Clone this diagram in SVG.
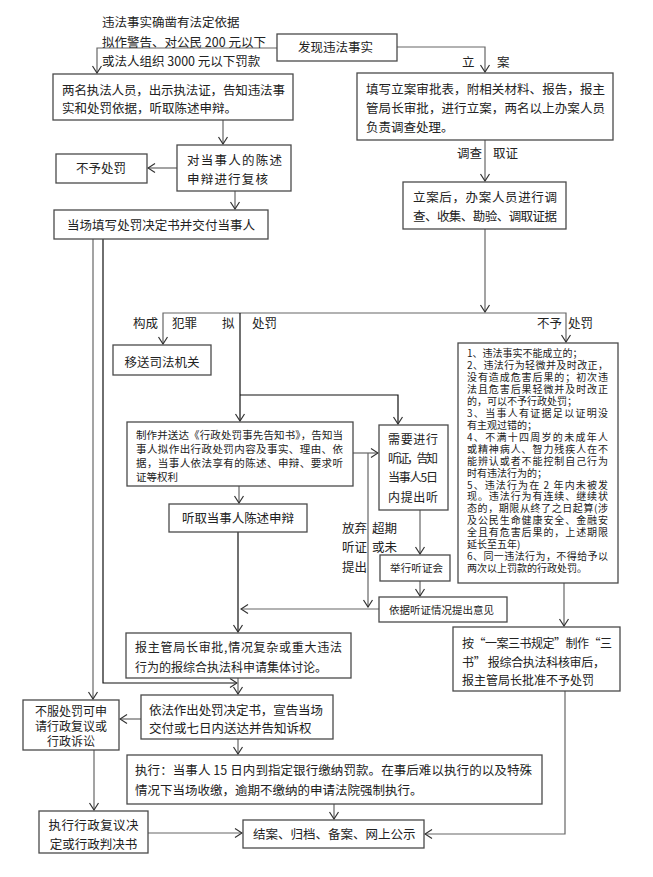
<svg xmlns="http://www.w3.org/2000/svg" width="653" height="877" viewBox="0 0 653 877">
<style>
text{font-family:"Noto Sans CJK SC","Liberation Serif",sans-serif;font-size:12.5px;fill:#222}
.s{font-size:10.5px}
.r{font-size:10px}
.m{font-size:12px}
.box{fill:#fff;stroke:#4a4a4a;stroke-width:1.3}
.c{fill:none;stroke:#666;stroke-width:1.2}
.k{stroke:#111}
.a{marker-end:url(#ar)}
</style>
<defs>
<marker id="ar" viewBox="-9 -6 10 12" refX="0" refY="0" markerWidth="10" markerHeight="12" markerUnits="userSpaceOnUse" orient="auto">
<path d="M-7,-4.5 L0,0 L-7,4.5" fill="none" stroke="#333" stroke-width="1.2"/>
</marker>
</defs>
<rect width="653" height="877" fill="#fff"/>
<g id="connectors">
<path class="c a" d="M277,48 H97 V73"/>
<path class="c a" d="M397,47 H485 V72"/>
<path class="c a" d="M223,120 V144"/>
<path class="c a" d="M177,168 H148"/>
<path class="c a" d="M235,191 V209"/>
<path class="c a" d="M485,140 V181"/>
<path class="c a" d="M485,229 V312"/>
<path class="c a" d="M240,313 H163 V344"/>
<path class="c a" d="M240,313 H566 V342"/>
<path class="c k a" d="M240,313 V421"/>
<path class="c k a" d="M240,395 H398 V424"/>
<path class="c a" d="M353,453 H378"/>
<path class="c a" d="M368,453 V607"/>
<path class="c a" d="M379,609 H241"/>
<path class="c a" d="M239,486 V503"/>
<path class="c k a" d="M238,532 V632"/>
<path class="c a" d="M420,510 V554"/>
<path class="c a" d="M420,581 V596"/>
<path class="c a" d="M564,583 V626"/>
<path class="c a" d="M565,691 V834 H425"/>
<path class="c k a" d="M103,239 V683 H237"/>
<path class="c a" d="M238,678 V694"/>
<path class="c a" d="M93,239 V699"/>
<path class="c a" d="M141,719 H120"/>
<path class="c a" d="M94,750 V810"/>
<path class="c a" d="M148,833 H242"/>
<path class="c a" d="M238,739 V754"/>
<path class="c a" d="M334,804 V819"/>
</g>
<g id="labels">
<text x="102" y="26.5">违法事实确凿有法定依据</text>
<text x="102" y="46.5">拟作警告、对公民 200 元以下</text>
<text x="102" y="65.5">或法人组织 3000 元以下罚款</text>
<text x="462" y="66.5">立</text>
<text x="497" y="66.5">案</text>
<text x="457" y="157.5">调查</text>
<text x="493" y="157.5">取证</text>
<text x="133" y="327.5">构成</text>
<text x="172" y="327.5">犯罪</text>
<text x="222" y="327.5">拟</text>
<text x="252" y="327.5">处罚</text>
<text x="537" y="327.5">不予</text>
<text x="568" y="327.5">处罚</text>
<text x="342" y="532.5">放弃</text>
<text x="342" y="551.5">听证</text>
<text x="342" y="571.5">提出</text>
<text x="372" y="532.5">超期</text>
<text x="372" y="551.5">或未</text>
</g>
<g id="n-discover">
<rect class="box" x="277" y="34" width="120" height="27"/>
<text x="298" y="52">发现违法事实</text>
</g>
<g id="n-two">
<rect class="box" x="53" y="74" width="240" height="46"/>
<text x="62" y="94.5" textLength="223" lengthAdjust="spacing">两名执法人员，出示执法证，告知违法事</text>
<text x="62" y="112.5">实和处罚依据，听取陈述申辩。</text>
</g>
<g id="n-file">
<rect class="box" x="357" y="73" width="256" height="67"/>
<text x="366" y="93.5" textLength="239" lengthAdjust="spacing">填写立案审批表，附相关材料、报告，报主</text>
<text x="366" y="112.5" textLength="239" lengthAdjust="spacing">管局长审批，进行立案，两名以上办案人员</text>
<text x="366" y="131.5">负责调查处理。</text>
</g>
<g id="n-review">
<rect class="box" x="177" y="145" width="114" height="46"/>
<text x="187" y="164.5" textLength="95" lengthAdjust="spacing">对当事人的陈述</text>
<text x="187" y="183.5" textLength="81" lengthAdjust="spacing">申辩进行复核</text>
</g>
<g id="n-nopen1">
<rect class="box" x="56" y="154" width="91" height="29"/>
<text x="101" y="172.5" text-anchor="middle">不予处罚</text>
</g>
<g id="n-invest">
<rect class="box" x="403" y="182" width="163" height="47"/>
<text x="413" y="201.5" textLength="144" lengthAdjust="spacing">立案后，办案人员进行调</text>
<text x="413" y="220.5" textLength="144" lengthAdjust="spacing">查、收集、勘验、调取证据</text>
</g>
<g id="n-onsite">
<rect class="box" x="54" y="210" width="214" height="29"/>
<text x="161" y="229.5" text-anchor="middle" textLength="188" lengthAdjust="spacing">当场填写处罚决定书并交付当事人</text>
</g>
<g id="n-judicial">
<rect class="box" x="113" y="345" width="98" height="30"/>
<text x="162" y="366.5" text-anchor="middle">移送司法机关</text>
</g>
<g id="n-notice">
<rect class="box" x="127" y="422" width="226" height="64"/>
<text class="s" x="136" y="439" textLength="207" lengthAdjust="spacing">制作并送达《行政处罚事先告知书》，告知当</text>
<text class="s" x="136" y="453" textLength="207" lengthAdjust="spacing">事人拟作出行政处罚内容及事实、理由、依</text>
<text class="s" x="136" y="467" textLength="207" lengthAdjust="spacing">据，当事人依法享有的陈述、申辩、要求听</text>
<text class="s" x="136" y="481">证等权利</text>
</g>
<g id="n-hearneed">
<rect class="box" x="379" y="425" width="69" height="85"/>
<text class="m" x="388" y="443.5" textLength="50" lengthAdjust="spacing">需要进行</text>
<text class="m" x="388" y="462.5" textLength="50" lengthAdjust="spacing">听证，告知</text>
<text class="m" x="388" y="481.5" textLength="50" lengthAdjust="spacing">当事人5日</text>
<text class="m" x="388" y="501.5" textLength="50" lengthAdjust="spacing">内提出听</text>
</g>
<g id="n-listen">
<rect class="box" x="169" y="504" width="138" height="28"/>
<text x="182" y="522.5" textLength="112" lengthAdjust="spacing">听取当事人陈述申辩</text>
</g>
<g id="n-hearing">
<rect class="box" x="380" y="555" width="70" height="26"/>
<text class="s" x="390" y="572" textLength="53" lengthAdjust="spacing">举行听证会</text>
</g>
<g id="n-opinion">
<rect class="box" x="379" y="597" width="128" height="25"/>
<text class="s" x="389" y="613.5">依据听证情况提出意见</text>
</g>
<g id="n-conditions">
<rect class="box" x="458" y="343" width="160" height="240"/>
<text class="r"><tspan x="467" y="357">1、违法事实不能成立的；</tspan><tspan x="467" y="369" textLength="141" lengthAdjust="spacing">2、违法行为轻微并及时改正，</tspan><tspan x="467" y="381" textLength="141" lengthAdjust="spacing">没有造成危害后果的；初次违</tspan><tspan x="467" y="393" textLength="141" lengthAdjust="spacing">法且危害后果轻微并及时改正</tspan><tspan x="467" y="404.9">的，可以不予行政处罚；</tspan><tspan x="467" y="416.8" textLength="141" lengthAdjust="spacing">3、当事人有证据足以证明没</tspan><tspan x="467" y="428.8">有主观过错的；</tspan><tspan x="467" y="440.7" textLength="141" lengthAdjust="spacing">4、不满十四周岁的未成年人</tspan><tspan x="467" y="452.7" textLength="141" lengthAdjust="spacing">或精神病人、智力残疾人在不</tspan><tspan x="467" y="464.6" textLength="141" lengthAdjust="spacing">能辨认或者不能控制自己行为</tspan><tspan x="467" y="476.5">时有违法行为的；</tspan><tspan x="467" y="488.5" textLength="141" lengthAdjust="spacing">5、违法行为在 2 年内未被发</tspan><tspan x="467" y="500.4" textLength="141" lengthAdjust="spacing">现。违法行为有连续、继续状</tspan><tspan x="467" y="512.4" textLength="141" lengthAdjust="spacing">态的，期限从终了之日起算(涉</tspan><tspan x="467" y="524.3" textLength="141" lengthAdjust="spacing">及公民生命健康安全、金融安</tspan><tspan x="467" y="536.2" textLength="141" lengthAdjust="spacing">全且有危害后果的，上述期限</tspan><tspan x="467" y="548.2">延长至五年)</tspan><tspan x="467" y="560.1" textLength="141" lengthAdjust="spacing">6、同一违法行为，不得给予以</tspan><tspan x="467" y="572.1">两次以上罚款的行政处罚。</tspan></text>
</g>
<g id="n-approve">
<rect class="box" x="126" y="633" width="225" height="45"/>
<text class="m" x="135" y="651.5" textLength="207" lengthAdjust="spacing">报主管局长审批,情况复杂或重大违法</text>
<text class="m" x="135" y="671.5">行为的报综合执法科申请集体讨论。</text>
</g>
<g id="n-threebook">
<rect class="box" x="453" y="627" width="167" height="64"/>
<text class="m" x="462" y="647.5" textLength="150" lengthAdjust="spacing">按“一案三书规定”制作“三</text>
<text class="m" x="462" y="666.5" textLength="143" lengthAdjust="spacing">书” 报综合执法科核审后，</text>
<text class="m" x="462" y="684.5">报主管局长批准不予处罚</text>
</g>
<g id="n-decision">
<rect class="box" x="141" y="695" width="192" height="44"/>
<text x="149" y="714.5" textLength="174" lengthAdjust="spacing">依法作出处罚决定书，宣告当场</text>
<text x="149" y="732.5">交付或七日内送达并告知诉权</text>
</g>
<g id="n-appeal">
<rect class="box" x="23" y="700" width="96" height="50"/>
<text class="m" text-anchor="middle"><tspan x="71" y="716">不服处罚可申</tspan><tspan x="71" y="731">请行政复议或</tspan><tspan x="71" y="745.5">行政诉讼</tspan></text>
</g>
<g id="n-execute">
<rect class="box" x="127" y="755" width="415" height="49"/>
<text x="135" y="774.5" textLength="397" lengthAdjust="spacing">执行：当事人 15 日内到指定银行缴纳罚款。在事后难以执行的以及特殊</text>
<text x="135" y="794.5">情况下当场收缴，逾期不缴纳的申请法院强制执行。</text>
</g>
<g id="n-review-exec">
<rect class="box" x="39" y="811" width="109" height="42"/>
<text x="93.5" y="830" text-anchor="middle" textLength="90" lengthAdjust="spacing">执行行政复议决</text>
<text x="93.5" y="849" text-anchor="middle">定或行政判决书</text>
</g>
<g id="n-close">
<rect class="box" x="243" y="820" width="181" height="28"/>
<text x="253" y="838.5">结案、归档、备案、网上公示</text>
</g>
</svg>
